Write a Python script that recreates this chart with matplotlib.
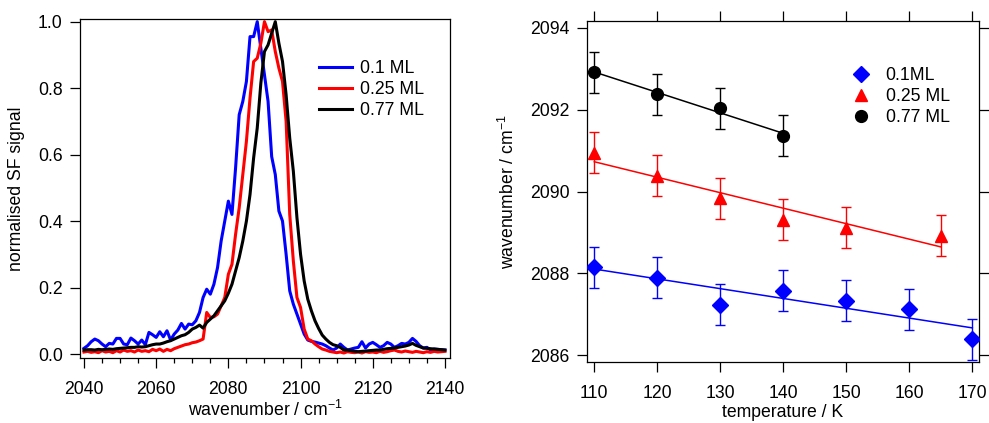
import numpy as np
import matplotlib
matplotlib.use("Agg")
import matplotlib.pyplot as plt
from matplotlib.ticker import MultipleLocator

plt.rcParams['font.family'] = ['Liberation Sans', 'DejaVu Sans']
plt.rcParams['font.size'] = 12.7
plt.rcParams['mathtext.fontset'] = 'custom'
plt.rcParams['mathtext.rm'] = 'Liberation Sans'
plt.rcParams['mathtext.default'] = 'regular'

# ---- left panel: normalised SF spectra ----
wavenumber = np.arange(2040, 2141)

sf_01 = [0.017, 0.025, 0.037, 0.045, 0.040, 0.030, 0.022, 0.032, 0.030, 0.047,
         0.047, 0.030, 0.028, 0.048, 0.040, 0.030, 0.042, 0.028, 0.065, 0.058,
         0.050, 0.067, 0.052, 0.070, 0.042, 0.060, 0.072, 0.092, 0.075, 0.090,
         0.088, 0.100, 0.125, 0.170, 0.195, 0.180, 0.210, 0.260, 0.340, 0.400,
         0.460, 0.420, 0.560, 0.720, 0.760, 0.820, 0.955, 0.955, 1.000, 0.920,
         0.840, 0.760, 0.594, 0.540, 0.430, 0.400, 0.300, 0.190, 0.150, 0.120,
         0.090, 0.060, 0.042, 0.038, 0.036, 0.033, 0.030, 0.025, 0.018, 0.012,
         0.018, 0.030, 0.020, 0.012, 0.015, 0.018, 0.020, 0.037, 0.018, 0.030,
         0.035, 0.028, 0.020, 0.025, 0.035, 0.030, 0.020, 0.025, 0.032, 0.030,
         0.035, 0.047, 0.038, 0.025, 0.018, 0.020, 0.012, 0.015, 0.014, 0.013, 0.012]

sf_025 = [0.006, 0.008, 0.005, 0.007, 0.004, 0.010, 0.006, 0.008, 0.004, 0.010,
          0.006, 0.012, 0.008, 0.010, 0.006, 0.012, 0.008, 0.010, 0.007, 0.014,
          0.010, 0.015, 0.008, 0.014, 0.010, 0.016, 0.020, 0.024, 0.028, 0.030,
          0.034, 0.036, 0.040, 0.045, 0.125, 0.110, 0.112, 0.120, 0.145, 0.170,
          0.240, 0.270, 0.360, 0.440, 0.540, 0.640, 0.770, 0.880, 0.890, 0.935,
          1.000, 0.970, 0.975, 0.910, 0.860, 0.820, 0.700, 0.420, 0.280, 0.170,
          0.140, 0.075, 0.045, 0.040, 0.030, 0.022, 0.015, 0.012, 0.008, 0.006,
          0.004, 0.006, 0.003, 0.007, 0.005, 0.004, 0.006, 0.003, 0.007, 0.005,
          0.006, 0.004, 0.008, 0.005, 0.007, 0.010, 0.012, 0.008, 0.006, 0.009,
          0.007, 0.005, 0.008, 0.006, 0.004, 0.007, 0.005, 0.008, 0.006, 0.007, 0.008]

sf_077 = [0.012, 0.013, 0.013, 0.012, 0.014, 0.013, 0.014, 0.015, 0.014, 0.016,
          0.017, 0.018, 0.019, 0.020, 0.020, 0.022, 0.021, 0.022, 0.025, 0.028,
          0.030, 0.030, 0.033, 0.037, 0.040, 0.045, 0.050, 0.055, 0.058, 0.065,
          0.075, 0.080, 0.087, 0.078, 0.095, 0.105, 0.115, 0.130, 0.145, 0.160,
          0.183, 0.210, 0.250, 0.290, 0.340, 0.400, 0.480, 0.590, 0.680, 0.815,
          0.910, 0.930, 0.965, 1.000, 0.935, 0.880, 0.780, 0.650, 0.550, 0.410,
          0.300, 0.220, 0.165, 0.130, 0.100, 0.077, 0.057, 0.045, 0.035, 0.028,
          0.025, 0.020, 0.012, 0.012, 0.010, 0.008, 0.007, 0.008, 0.009, 0.010,
          0.011, 0.012, 0.012, 0.014, 0.016, 0.017, 0.018, 0.020, 0.022, 0.024,
          0.027, 0.032, 0.026, 0.022, 0.018, 0.017, 0.016, 0.015, 0.014, 0.013, 0.012]

spec_labels = ["0.1 ML", "0.25 ML", "0.77 ML"]
spec_colors = ["#0000ff", "#ff0000", "#000000"]

# ---- right panel: peak position vs temperature ----
temp_01 = [110, 120, 130, 140, 150, 160, 170]
peak_01 = [2088.15, 2087.90, 2087.24, 2087.58, 2087.33, 2087.13, 2086.40]
temp_025 = [110, 120, 130, 140, 150, 165]
peak_025 = [2090.94, 2090.38, 2089.84, 2089.31, 2089.11, 2088.92]
temp_077 = [110, 120, 130, 140]
peak_077 = [2092.91, 2092.37, 2092.03, 2091.36]
peak_err = 0.5

fig = plt.figure(figsize=(9.89, 4.23), dpi=100)
ax1 = fig.add_axes([80 / 989, 1 - 358 / 423, 370 / 989, 339 / 423])
ax2 = fig.add_axes([587 / 989, 1 - 362 / 423, 392 / 989, 341 / 423])

for ys, lab, col in zip([sf_01, sf_025, sf_077], spec_labels, spec_colors):
    ax1.plot(wavenumber, ys, color=col, lw=2.2, label=lab)

ax1.set_xlim(2038.9, 2141.4)
ax1.set_ylim(-0.012, 1.008)
ax1.xaxis.set_major_locator(MultipleLocator(20))
ax1.xaxis.set_minor_locator(MultipleLocator(5))
ax1.yaxis.set_major_locator(MultipleLocator(0.2))
ax1.tick_params(which='major', direction='out', length=7.5, width=0.9, pad=5)
ax1.tick_params(axis='x', which='major', pad=9)
ax1.tick_params(which='minor', direction='out', length=3.7, width=0.9)
ax1.set_xlabel("wavenumber / cm$^{-1}$", labelpad=1.5)
ax1.set_ylabel("normalised SF signal", labelpad=9)
ax1.legend(loc='upper left', bbox_to_anchor=(0.646, 0.88), frameon=False,
           borderpad=0, borderaxespad=0, handlelength=1.85, handletextpad=0.5,
           labelspacing=0.25)

# right panel
ax2.errorbar(temp_01, peak_01, yerr=peak_err, fmt='D', color='#0000ff', ms=8,
             capsize=3.6, elinewidth=1, capthick=1, label="0.1ML", zorder=3)
ax2.errorbar(temp_025, peak_025, yerr=peak_err, fmt='^', color='#ff0000', ms=9,
             capsize=3.6, elinewidth=1, capthick=1, label="0.25 ML", zorder=3)
ax2.errorbar(temp_077, peak_077, yerr=peak_err, fmt='o', color='#000000', ms=8.5,
             capsize=3.6, elinewidth=1, capthick=1, label="0.77 ML", zorder=3)

for tx, py, col in [(temp_01, peak_01, '#0000ff'), (temp_025, peak_025, '#ff0000'),
                    (temp_077, peak_077, '#000000')]:
    k, b = np.polyfit(tx, py, 1)
    xs = np.array([tx[0], tx[-1]])
    ax2.plot(xs, k * xs + b, color=col, lw=1.1, zorder=2)

ax2.set_xlim(108.84, 171.06)
ax2.set_ylim(2085.84, 2094.16)
ax2.xaxis.set_major_locator(MultipleLocator(10))
ax2.yaxis.set_major_locator(MultipleLocator(2))
ax2.tick_params(which='major', direction='out', length=7.5, width=0.9, pad=5,
                top=True, right=True)
ax2.tick_params(axis='x', which='major', pad=9)
ax2.set_xlabel("temperature / K", labelpad=1.5)
ax2.set_ylabel("wavenumber / cm$^{-1}$", labelpad=9)
handles, labels = ax2.get_legend_handles_labels()
ax2.legend([h[0] for h in handles], labels, loc='upper left',
           bbox_to_anchor=(0.676, 0.865), frameon=False, borderpad=0,
           borderaxespad=0, handlelength=1.0, handletextpad=0.9,
           labelspacing=0.22)

for ax in (ax1, ax2):
    for sp in ax.spines.values():
        sp.set_linewidth(0.9)

fig.savefig("out.png", dpi=100)
